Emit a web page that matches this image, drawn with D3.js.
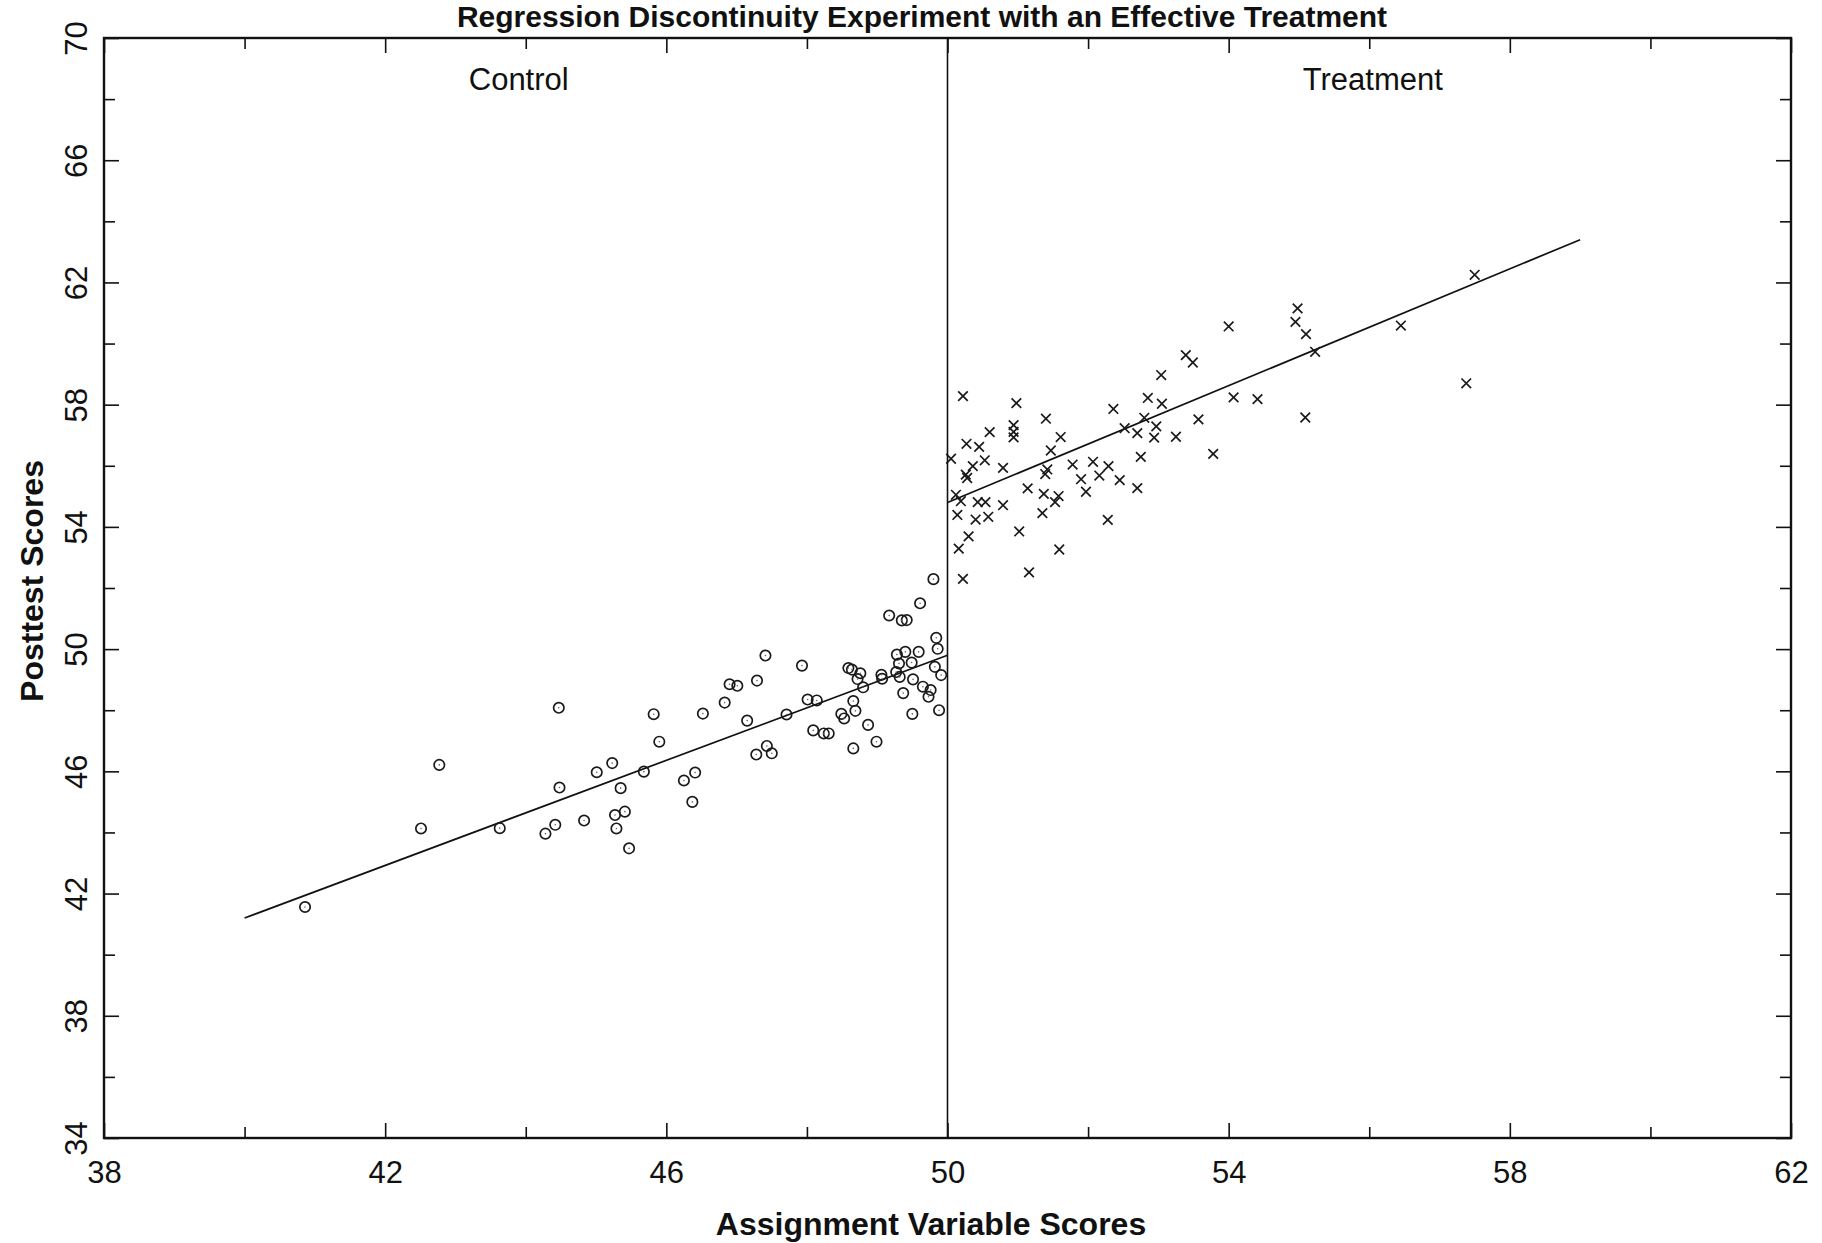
<!DOCTYPE html>
<html>
<head>
<meta charset="utf-8">
<script src="https://cdn.jsdelivr.net/npm/d3@7"></script>
<style>
  body { margin: 0; background: #fff; }
  text { font-family: "Liberation Sans", Arial, Helvetica, sans-serif; }
</style>
</head>
<body>
<div id="container"></div>
<script>
/* DATA */

// control group: assignment score < 50
const controlX = [44.47, 45.82, 46.52, 45.90, 42.77, 45.23, 45.01, 45.68, 46.41, 46.25, 44.48, 45.35, 46.37, 45.41, 45.27, 45.29, 42.51, 43.63, 44.42, 44.28, 44.83, 45.47, 40.86,
  49.80, 49.61, 49.17, 49.35, 49.42, 49.84, 49.86, 47.41, 47.93, 49.28, 49.40, 49.59, 49.49, 49.31, 49.27, 49.82, 49.91, 48.59, 48.64, 48.76, 48.72, 49.06, 49.07, 49.32,
  48.80, 49.51, 49.65, 49.76, 49.73, 49.37, 46.90, 47.01, 47.29, 46.83, 48.01, 48.14, 47.71, 48.66, 48.69, 48.49, 48.53, 49.88, 49.50, 47.15, 48.87, 48.09, 48.24, 48.31,
  48.99, 47.43, 47.28, 47.50, 48.66]
const controlY = [48.08, 47.87, 47.89, 46.97, 46.21, 46.27, 45.97, 45.99, 45.96, 45.70, 45.47, 45.45, 45.00, 44.68, 44.57, 44.13, 44.13, 44.14, 44.25, 43.96, 44.39, 43.48, 41.56,
  52.29, 51.50, 51.10, 50.94, 50.95, 50.37, 50.01, 49.79, 49.46, 49.82, 49.91, 49.91, 49.56, 49.53, 49.25, 49.42, 49.15, 49.38, 49.33, 49.21, 49.02, 49.16, 49.03, 49.09,
  48.75, 49.01, 48.77, 48.66, 48.44, 48.56, 48.85, 48.80, 48.97, 48.25, 48.35, 48.32, 47.86, 48.30, 47.98, 47.88, 47.73, 48.00, 47.88, 47.66, 47.52, 47.34, 47.24, 47.24,
  46.97, 46.83, 46.55, 46.59, 46.75]

// treatment group: assignment score >= 50
const treatX = [53.49, 53.04, 50.22, 50.98, 52.85, 53.05, 52.36, 51.40, 52.80, 53.57, 50.94, 50.94, 52.97, 52.52, 50.60, 52.70, 50.94, 51.61, 52.94, 53.25, 50.27,
  50.45, 51.47, 50.05, 50.53, 52.75, 53.78, 50.36, 50.79, 51.78, 52.07, 52.29, 50.26, 50.28, 51.42, 51.39, 51.90, 52.16, 52.45, 51.14, 52.70, 51.97, 50.12, 50.19,
  50.43, 50.54, 50.79, 51.37, 51.58, 51.53, 50.14, 50.40, 50.58, 51.35, 52.28, 50.30, 51.02, 50.16, 51.59, 51.16, 50.22,
  57.50, 54.98, 54.95, 55.10, 54.00, 56.45, 55.23, 53.39, 54.07, 54.41, 57.38, 55.09]
const treatY = [59.38, 58.97, 58.28, 58.05, 58.22, 58.03, 57.86, 57.54, 57.57, 57.52, 57.33, 57.11, 57.29, 57.23, 57.10, 57.07, 56.93, 56.94, 56.92, 56.95, 56.72,
  56.62, 56.50, 56.23, 56.18, 56.29, 56.39, 55.99, 55.93, 56.04, 56.13, 55.99, 55.71, 55.60, 55.88, 55.73, 55.56, 55.68, 55.53, 55.26, 55.27, 55.15, 55.05, 54.84,
  54.81, 54.81, 54.71, 55.08, 55.01, 54.81, 54.39, 54.24, 54.33, 54.45, 54.23, 53.69, 53.85, 53.29, 53.26, 52.51, 52.30,
  62.25, 61.15, 60.71, 60.31, 60.56, 60.59, 59.73, 59.62, 58.24, 58.18, 58.70, 57.58]

// fitted regression lines [x, y]
const controlLine = [[40, 41.2], [50, 49.8]]
const treatLine = [[50, 54.8], [59, 63.4]]
const cutoff = 50

const xDomain = [38, 62]
const yDomain = [34, 70]
const xTicksMajor = [38, 42, 46, 50, 54, 58, 62]
const xTicksMinor = [40, 44, 48, 52, 56, 60]
const yTicksMajor = [34, 38, 42, 46, 50, 54, 58, 62, 66, 70]
const yTicksMinor = [36, 40, 44, 48, 52, 56, 60, 64, 68]

const groupLabels = [{text: "Control", x: 43.9}, {text: "Treatment", x: 56.05}]
const labelY = 68.3

/* CONSTANTS AND GLOBALS */
const W = 1822, H = 1243
const margin = {top: 38, right: 31, bottom: 105, left: 104},
  width = W - margin.left - margin.right,
  height = H - margin.top - margin.bottom

const ink = "#111"
const majorLen = 15, minorLen = 11

/* SCALES */
const xScale = d3.scaleLinear().domain(xDomain).range([0, width])
const yScale = d3.scaleLinear().domain(yDomain).range([height, 0])

/* SVG */
const svg = d3.select("#container")
  .append("svg")
  .attr("width", W)
  .attr("height", H)
  .style("background-color", "#fff")

const g = svg.append("g")
  .attr("transform", "translate(" + margin.left + "," + margin.top + ")")

// title, squeezed into the strip above the frame
svg.append("text")
  .attr("x", 922)
  .attr("y", 27)
  .attr("text-anchor", "middle")
  .attr("font-size", 30)
  .attr("font-weight", "bold")
  .attr("fill", ink)
  .text("Regression Discontinuity Experiment with an Effective Treatment")

// ticks on all four sides, pointing inward
function styleAxis(sel) {
  sel.attr("color", ink)
  sel.select(".domain").remove()
  sel.selectAll("line").attr("stroke-width", 1.6)
}

g.append("g").attr("transform", "translate(0," + height + ")")
  .call(d3.axisBottom(xScale).tickValues(xTicksMinor).tickSize(-minorLen).tickSizeOuter(0).tickFormat(""))
  .call(styleAxis)
const xAxisGroup = g.append("g").attr("transform", "translate(0," + height + ")")
  .call(d3.axisBottom(xScale).tickValues(xTicksMajor).tickSize(-majorLen).tickSizeOuter(0).tickPadding(23).tickFormat(d3.format("d")))
  .call(styleAxis)
xAxisGroup.attr("font-size", 31).attr("font-family", "Liberation Sans, Arial, sans-serif")

g.append("g")
  .call(d3.axisTop(xScale).tickValues(xTicksMinor).tickSize(-minorLen).tickSizeOuter(0).tickFormat(""))
  .call(styleAxis)
g.append("g")
  .call(d3.axisTop(xScale).tickValues(xTicksMajor).tickSize(-majorLen).tickSizeOuter(0).tickFormat(""))
  .call(styleAxis)

g.append("g")
  .call(d3.axisLeft(yScale).tickValues(yTicksMinor).tickSize(-minorLen).tickSizeOuter(0).tickFormat(""))
  .call(styleAxis)
const yAxisGroup = g.append("g")
  .call(d3.axisLeft(yScale).tickValues(yTicksMajor).tickSize(-majorLen).tickSizeOuter(0).tickFormat(d3.format("d")))
  .call(styleAxis)
yAxisGroup.attr("font-size", 31).attr("font-family", "Liberation Sans, Arial, sans-serif")
yAxisGroup.selectAll("text")
  .attr("x", 0)
  .attr("dy", 0)
  .attr("text-anchor", "middle")
  .attr("transform", "translate(-17,0) rotate(-90)")

g.append("g").attr("transform", "translate(" + width + ",0)")
  .call(d3.axisRight(yScale).tickValues(yTicksMinor).tickSize(-minorLen).tickSizeOuter(0).tickFormat(""))
  .call(styleAxis)
g.append("g").attr("transform", "translate(" + width + ",0)")
  .call(d3.axisRight(yScale).tickValues(yTicksMajor).tickSize(-majorLen).tickSizeOuter(0).tickFormat(""))
  .call(styleAxis)

// frame
g.append("rect")
  .attr("x", 0).attr("y", 0)
  .attr("width", width).attr("height", height)
  .attr("fill", "none")
  .attr("stroke", ink)
  .attr("stroke-width", 2.4)

// cutoff line
g.append("line")
  .attr("x1", xScale(cutoff)).attr("x2", xScale(cutoff))
  .attr("y1", yScale(yDomain[0])).attr("y2", yScale(yDomain[1]))
  .attr("stroke", ink)
  .attr("stroke-width", 1.6)

// regression lines
const line = d3.line().x(d => xScale(d[0])).y(d => yScale(d[1]))
g.selectAll("path.fit")
  .data([controlLine, treatLine])
  .join("path")
  .attr("class", "fit")
  .attr("d", line)
  .attr("fill", "none")
  .attr("stroke", ink)
  .attr("stroke-width", 1.7)

// control points: open circles
const controlData = controlX.map((x, i) => ({x: x, y: controlY[i]}))
g.selectAll("circle.control")
  .data(controlData)
  .join("circle")
  .attr("class", "control")
  .attr("cx", d => xScale(d.x))
  .attr("cy", d => yScale(d.y))
  .attr("r", 5.2)
  .attr("fill", "none")
  .attr("stroke", "#1a1a1a")
  .attr("stroke-width", 1.7)
g.selectAll("circle.dot")
  .data(controlData)
  .join("circle")
  .attr("class", "dot")
  .attr("cx", d => xScale(d.x))
  .attr("cy", d => yScale(d.y))
  .attr("r", 0.8)
  .attr("fill", "#666")

// treatment points: crosses
const treatData = treatX.map((x, i) => ({x: x, y: treatY[i]}))
const s = 4.8
g.selectAll("path.treat")
  .data(treatData)
  .join("path")
  .attr("class", "treat")
  .attr("transform", d => "translate(" + xScale(d.x) + "," + yScale(d.y) + ")")
  .attr("d", "M" + (-s) + "," + (-s) + "L" + s + "," + s + "M" + (-s) + "," + s + "L" + s + "," + (-s))
  .attr("stroke", "#1a1a1a")
  .attr("stroke-width", 1.7)
  .attr("fill", "none")

// group labels
g.selectAll("text.group")
  .data(groupLabels)
  .join("text")
  .attr("class", "group")
  .attr("x", d => xScale(d.x))
  .attr("y", yScale(labelY))
  .attr("text-anchor", "middle")
  .attr("font-size", 31)
  .attr("fill", ink)
  .text(d => d.text)

// axis titles
svg.append("text")
  .attr("x", 931)
  .attr("y", 1235)
  .attr("text-anchor", "middle")
  .attr("font-size", 32)
  .attr("font-weight", "bold")
  .attr("fill", ink)
  .text("Assignment Variable Scores")

svg.append("text")
  .attr("transform", "translate(43,581) rotate(-90)")
  .attr("text-anchor", "middle")
  .attr("font-size", 32)
  .attr("font-weight", "bold")
  .attr("fill", ink)
  .text("Posttest Scores")
</script>
</body>
</html>
